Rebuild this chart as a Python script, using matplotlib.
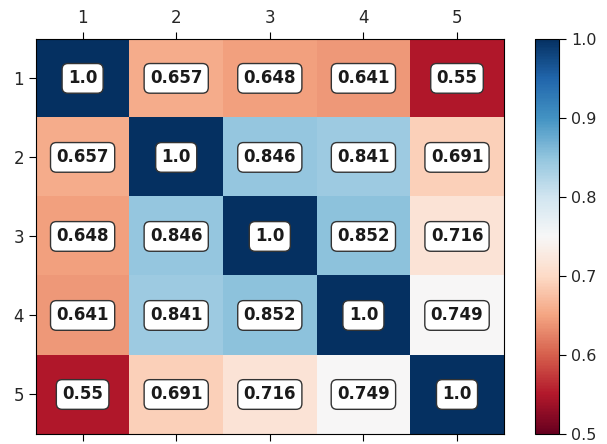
import matplotlib
matplotlib.use("Agg")
import matplotlib.pyplot as plt
import numpy as np

labels = ["1", "2", "3", "4", "5"]
row1 = [1.0, 0.657, 0.648, 0.641, 0.55]
row2 = [0.657, 1.0, 0.846, 0.841, 0.691]
row3 = [0.648, 0.846, 1.0, 0.852, 0.716]
row4 = [0.641, 0.841, 0.852, 1.0, 0.749]
row5 = [0.55, 0.691, 0.716, 0.749, 1.0]

corr = np.array([row1, row2, row3, row4, row5])

fig = plt.figure(figsize=(6.07, 4.44), dpi=100)
ax = fig.add_axes([0.059, 0.0225, 0.771, 0.890])
cax = fig.add_axes([0.881, 0.0225, 0.040, 0.890])

im = ax.imshow(corr, cmap="RdBu", vmin=0.5, vmax=1.0, aspect="auto")

n = len(labels)
ax.set_xticks(range(n))
ax.set_yticks(range(n))
ax.set_xticklabels(labels)
ax.set_yticklabels(labels)
ax.tick_params(top=True, labeltop=True, bottom=True, labelbottom=False,
               labelsize=12, length=5, labelcolor="#262626")

# value labels in rounded white boxes
for i in range(n):
    for j in range(n):
        ax.text(j, i, str(corr[i, j]), ha="center", va="center",
                fontsize=12, fontweight="bold", color="#1a1a1a",
                bbox=dict(boxstyle="round,pad=0.35", fc="white", ec="#333333", lw=1))

cb = fig.colorbar(im, cax=cax)
cb.set_ticks([0.5, 0.6, 0.7, 0.8, 0.9, 1.0])
cb.ax.tick_params(labelsize=11.5, length=5, labelcolor="#262626")
cb.outline.set_linewidth(0.8)

fig.savefig("out.png", dpi=100)
